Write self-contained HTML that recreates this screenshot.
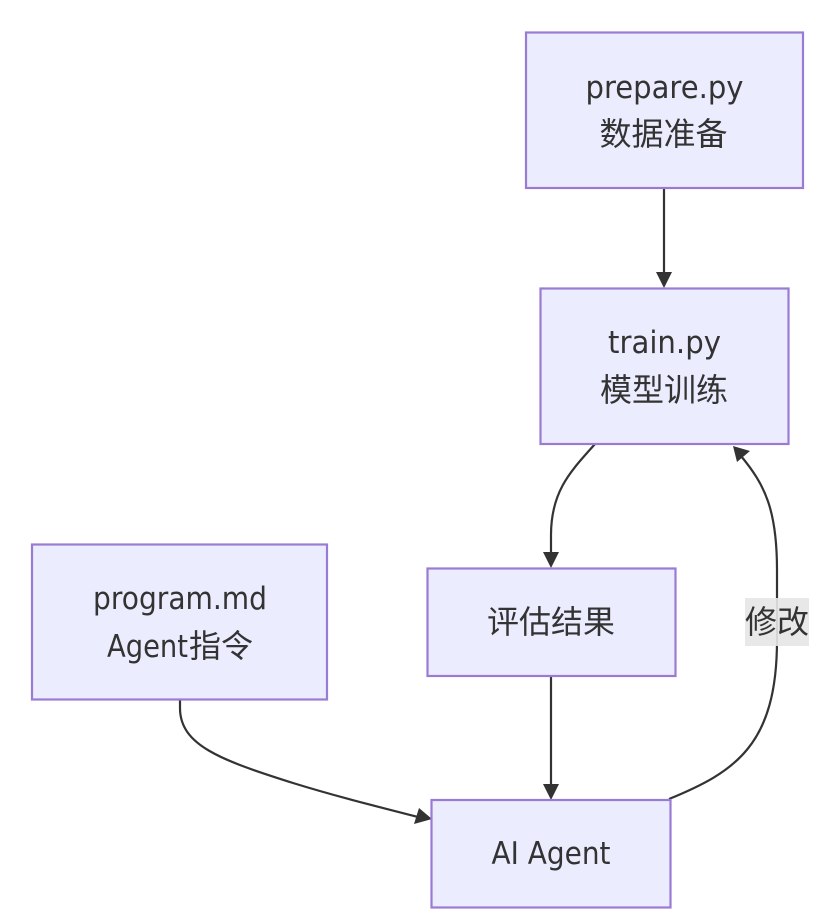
<!DOCTYPE html>
<html>
<head>
<meta charset="utf-8">
<style>
html,body{margin:0;padding:0;background:#fff;width:825px;height:924px;overflow:hidden}
svg{display:block}
text{font-family:"DejaVu Sans","Noto Sans CJK SC",sans-serif;font-size:31.5px;fill:#333;text-anchor:middle}
.c{font-family:"Noto Sans CJK SC","DejaVu Sans",sans-serif;font-size:32px}
rect.n{fill:#ECECFF;stroke:#9A7BD4;stroke-width:2.2}
path.e{fill:none;stroke:#333;stroke-width:2.2}
path.h{fill:#333;stroke:none}
</style>
</head>
<body>
<svg width="825" height="924" viewBox="0 0 825 924" xmlns="http://www.w3.org/2000/svg">
<rect x="0" y="0" width="825" height="924" fill="#fff"/>
<!-- edges -->
<path class="e" d="M664 188 L664 275"/>
<path class="e" d="M595 444 C572 470 551 490 551 535 L551 555"/>
<path class="e" d="M551 676 L551 786"/>
<path class="e" d="M180 700 L180 708 C180 745 220 760 293 783 C335 796 375 806 418 817"/>
<path class="e" d="M669 799 C735 772 777 745 777 640 L777 570 C777 510 765 485 741 456"/>
<!-- arrowheads -->
<path class="h" d="M656 272 L672 272 L664 288 Z"/>
<path class="h" d="M543 552 L559 552 L551 568 Z"/>
<path class="h" d="M543 784 L559 784 L551 800 Z"/>
<path class="h" d="M432 819 L414 824 L419 808 Z"/>
<path class="h" d="M733 446 L750 451 L737 462 Z"/>
<!-- nodes -->
<rect class="n" x="526" y="32.500" width="277" height="155.500"/>
<rect class="n" x="540.500" y="288.500" width="248" height="155.500"/>
<rect class="n" x="427.500" y="568.500" width="248" height="107.500"/>
<rect class="n" x="32" y="544.500" width="295" height="155"/>
<rect class="n" x="431.500" y="800" width="239" height="107.500"/>
<!-- edge label -->
<rect x="745" y="598" width="64" height="48" fill="#E8E8E8"/>
<path d="M777 598 L777 646" stroke="#CFCFCF" stroke-width="1.5" fill="none"/>
<!-- text -->
<text x="664.500" y="98" textLength="158" lengthAdjust="spacingAndGlyphs">prepare.py</text>
<text class="c" x="663.500" y="145">数据准备</text>
<text x="664.500" y="353" textLength="113" lengthAdjust="spacingAndGlyphs">train.py</text>
<text class="c" x="664" y="401">模型训练</text>
<text class="c" x="551" y="633">评估结果</text>
<text class="c" x="777" y="633">修改</text>
<text x="180" y="609" textLength="174" lengthAdjust="spacingAndGlyphs">program.md</text>
<text x="147.500" y="657" textLength="81" lengthAdjust="spacingAndGlyphs">Agent</text>
<text class="c" x="221" y="657">指令</text>
<text x="551" y="864" textLength="119" lengthAdjust="spacingAndGlyphs">AI Agent</text>
</svg>
</body>
</html>
